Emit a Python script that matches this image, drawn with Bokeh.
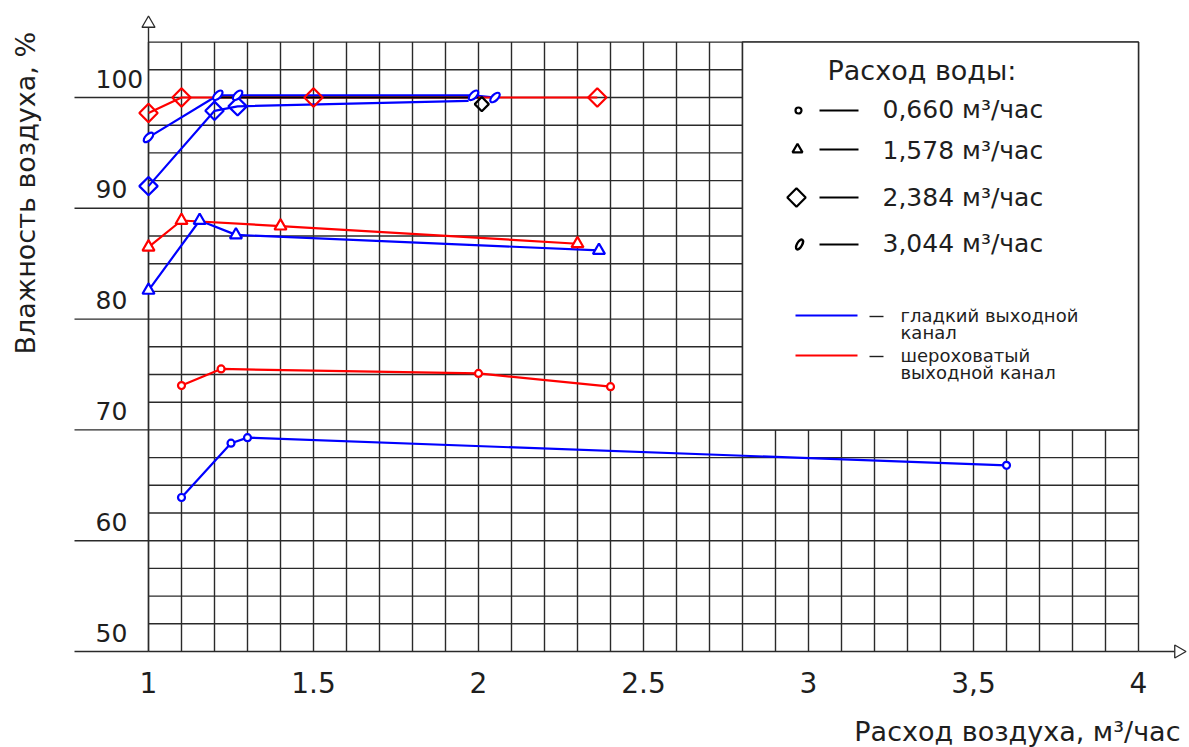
import numpy as np
from bokeh.plotting import figure
from bokeh.models import Range1d
from bokeh.embed import file_html
from bokeh.resources import INLINE
from bokeh.core.properties import value

# ---------------- data ----------------
x_ticks = [1, 1.5, 2, 2.5, 3, 3.5, 4]
x_tick_labels = ["1", "1.5", "2", "2.5", "3", "3,5", "4"]
y_ticks = [50, 60, 70, 80, 90, 100]
y_tick_labels = ["50", "60", "70", "80", "90", "100"]

x_title = "Расход воздуха, м³/час"
y_title = "Влажность воздуха, %"
legend_title = "Расход воды:"
water_flow_labels = ["0,660  м³/час", "1,578  м³/час", "2,384  м³/час", "3,044  м³/час"]
smooth_label = ["гладкий выходной", "канал"]
rough_label = ["шероховатый", "выходной канал"]

# smooth outlet channel (blue)
smooth_c_x = [1.10, 1.25, 1.30, 3.60]
smooth_c_y = [63.9, 68.8, 69.3, 66.8]
smooth_t_x = [1.00, 1.155, 1.265, 2.365]
smooth_t_y = [82.6, 88.9, 87.6, 86.2]
smooth_d_x = [1.00, 1.20, 1.27, 1.97]
smooth_d_y = [92.0, 98.8, 99.2, 99.7]
smooth_e_x = [1.00, 1.21, 1.27, 1.985, 2.05]
smooth_e_y = [96.4, 100.2, 100.2, 100.2, 100.0]

# rough outlet channel (red)
rough_c_x = [1.10, 1.22, 2.00, 2.40]
rough_c_y = [74.0, 75.5, 75.1, 73.9]
rough_t_x = [1.00, 1.10, 1.40, 2.30]
rough_t_y = [86.5, 88.9, 88.4, 86.8]
rough_d_x = [1.00, 1.10, 1.50, 2.36]
rough_d_y = [98.6, 100.0, 100.0, 100.0]

# black line
black_x = [1.20, 2.00]
black_y = [100.0, 100.0]
black_d_x = [2.01]
black_d_y = [99.4]

# ---------------- layout helpers (picture pixels -> data) ----------------
W, H = 1189, 747


def px2x(px):
    return 1 + (px - 148) / 330.0


def py2y(py):
    return 100 - (py - 97) / 11.08


BLUE = "#0000ff"
RED = "#ff0000"
INK = "#1e1e1e"
GRID = "#2a2a2a"
FONT = value("DejaVu Sans")

p = figure(width=W, height=H,
           x_range=Range1d(px2x(0), px2x(W)),
           y_range=Range1d(py2y(H), py2y(0)),
           x_axis_type=None, y_axis_type=None,
           toolbar_location=None, output_backend="svg",
           min_border=0, outline_line_color=None)
p.background_fill_color = "white"
p.border_fill_color = "white"

# grid
gx = np.round(np.arange(1.0, 4.0001, 0.1), 3)
gy = np.arange(50.0, 105.01, 2.5)
p.segment(x0=gx, y0=[50] * len(gx), x1=gx, y1=[105] * len(gx), line_color=GRID, line_width=1.4)
p.segment(x0=[1.0] * len(gy), y0=gy, x1=[4.0] * len(gy), y1=gy, line_color=GRID, line_width=1.4)
p.segment(x0=[px2x(74)] * len(y_ticks), y0=y_ticks, x1=[1.0] * len(y_ticks), y1=y_ticks,
          line_color=GRID, line_width=1.4)

# axes with arrows
p.segment(x0=[1.0], y0=[50], x1=[1.0], y1=[py2y(22)], line_color=GRID, line_width=1.4)
p.segment(x0=[4.0], y0=[50], x1=[px2x(1174)], y1=[50], line_color=GRID, line_width=1.4)
p.scatter(x=[1.0], y=[py2y(23)], marker="triangle", size=13, fill_color="white",
          line_color=GRID, line_width=1.3)
p.scatter(x=[px2x(1178)], y=[50], marker="triangle", angle=-np.pi / 2, size=13,
          fill_color="white", line_color=GRID, line_width=1.3)

# legend box
p.quad(left=[2.8], right=[4.0], bottom=[70], top=[105], fill_color="white",
       line_color=GRID, line_width=1.5)

TXT = dict(text_baseline="middle", text_font=FONT, text_color=INK)

# tick labels (labels sit above their grid line)
p.text(x=[px2x(95)] * len(y_ticks), y=[t + 19 / 11.08 for t in y_ticks], text=y_tick_labels,
       text_align="left", text_font_size="25px", **TXT)
p.text(x=x_ticks, y=[py2y(682)] * len(x_ticks), text=x_tick_labels,
       text_align="center", text_font_size="28px", **TXT)

# axis titles
p.text(x=[px2x(1180)], y=[py2y(731)], text=[x_title], text_align="right",
       text_font_size="27px", **TXT)
p.text(x=[px2x(25)], y=[py2y(354)], text=[y_title], angle=np.pi / 2, text_align="left",
       text_font_size="27px", **TXT)

LW = 2.2


def diamonds(xs, ys, color, size=13):
    p.scatter(x=xs, y=ys, marker="square", angle=np.pi / 4, size=size,
              fill_color="white", fill_alpha=0.0, line_color=color, line_width=LW)


def triangles(xs, ys, color):
    p.scatter(x=xs, y=ys, marker="triangle", size=12, fill_color="white",
              line_color=color, line_width=LW)


def circles(xs, ys, color):
    p.scatter(x=xs, y=ys, marker="circle", size=7, fill_color="white",
              line_color=color, line_width=LW)


def ellipses(xs, ys, color, fill="white"):
    p.ellipse(x=xs, y=ys, width=12, height=6, width_units="screen", height_units="screen",
              angle=np.pi / 4, fill_color=fill, line_color=color, line_width=LW)


# data lines
p.line(smooth_c_x, smooth_c_y, line_color=BLUE, line_width=LW)
p.line(smooth_t_x, smooth_t_y, line_color=BLUE, line_width=LW)
p.line(smooth_d_x, smooth_d_y, line_color=BLUE, line_width=LW)
p.line(smooth_e_x, smooth_e_y, line_color=BLUE, line_width=LW)
p.line(rough_c_x, rough_c_y, line_color=RED, line_width=LW)
p.line(rough_t_x, rough_t_y, line_color=RED, line_width=LW)
p.line(rough_d_x, rough_d_y, line_color=RED, line_width=LW)
p.line(black_x, black_y, line_color="black", line_width=LW)

# markers
circles(smooth_c_x, smooth_c_y, BLUE)
circles(rough_c_x, rough_c_y, RED)
triangles(smooth_t_x, smooth_t_y, BLUE)
triangles(rough_t_x, rough_t_y, RED)
diamonds(smooth_d_x[:3], smooth_d_y[:3], BLUE)
diamonds(rough_d_x, rough_d_y, RED)
ellipses(smooth_e_x, smooth_e_y, BLUE)
diamonds(black_d_x, black_d_y, "black", size=10)

# legend content
p.text(x=[px2x(827)], y=[py2y(70)], text=[legend_title], text_align="left",
       text_font_size="27px", **TXT)
row_py = [110, 149, 197, 244]
row_y = [py2y(v) for v in row_py]
p.segment(x0=[px2x(819)] * 4, y0=row_y, x1=[px2x(858)] * 4, y1=row_y,
          line_color="black", line_width=2.2)
p.text(x=[px2x(882)] * 4, y=[py2y(v) for v in [109, 150, 197, 243]], text=water_flow_labels,
       text_align="left", text_font_size="25px", **TXT)
p.scatter(x=[px2x(798)], y=[row_y[0]], marker="circle", size=6, fill_color="white",
          line_color="black", line_width=2.2)
p.scatter(x=[px2x(797)], y=[row_y[1]], marker="triangle", size=10, fill_color="white",
          line_color="black", line_width=2.2)
p.scatter(x=[px2x(796)], y=[row_y[2]], marker="square", angle=np.pi / 4, size=13,
          fill_color="white", line_color="black", line_width=2.2)
p.ellipse(x=[px2x(799)], y=[row_y[3]], width=11, height=5, width_units="screen",
          height_units="screen", angle=np.pi / 3, fill_color="white", line_color="black",
          line_width=2.4)

# channel legend
ch_py = [315, 355]
ch_y = [py2y(v) for v in ch_py]
p.segment(x0=[px2x(795)] * 2, y0=ch_y, x1=[px2x(857)] * 2, y1=ch_y,
          line_color=[BLUE, RED], line_width=2.2)
p.segment(x0=[px2x(869)] * 2, y0=[py2y(v + 1) for v in ch_py], x1=[px2x(883)] * 2,
          y1=[py2y(v + 1) for v in ch_py], line_color=INK, line_width=1.4)
p.text(x=[px2x(900)] * 4, y=[py2y(v) for v in [315, 332, 355, 372]],
       text=[smooth_label[0], smooth_label[1], rough_label[0], rough_label[1]],
       text_align="left", text_font_size="18px", **TXT)

open("out.html", "w").write(file_html(p, INLINE))
